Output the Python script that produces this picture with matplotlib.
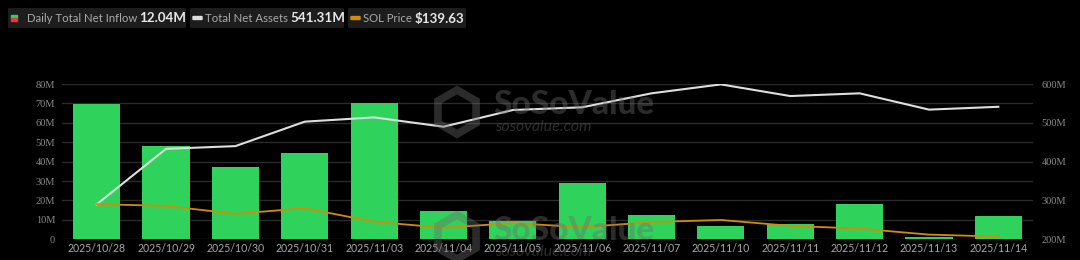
import numpy as np
import matplotlib.pyplot as plt
from matplotlib.patches import FancyBboxPatch, RegularPolygon

# data
dates = ['2025/10/28', '2025/10/29', '2025/10/30', '2025/10/31', '2025/11/03',
         '2025/11/04', '2025/11/05', '2025/11/06', '2025/11/07', '2025/11/10',
         '2025/11/11', '2025/11/12', '2025/11/13', '2025/11/14']
net_inflow = [69.5, 47.9, 37.2, 44.5, 70.1, 14.7, 9.6, 29.2, 12.7, 6.7, 7.9, 18.0, 1.3, 12.04]   # M
net_assets = [290, 433, 440, 503, 514, 490, 533, 540, 576, 599, 569, 576, 534, 541.31]        # M
sol_price = [195.0, 192.0, 178.5, 188.0, 165.0, 154.7, 162.6, 155.7, 164.3, 168.0, 157.9, 153.3, 143.0, 139.63]

left_ticks = [0, 10, 20, 30, 40, 50, 60, 70, 80]
right_ticks = [200, 300, 400, 500, 600]

BG = '#000000'
GREEN = '#2fd35b'
WHITE = '#dedede'
ORANGE = '#d38c05'
GRID = '#2b2b2b'
WM = '#6e6e6e'

plt.rcParams['font.family'] = ['Lato', 'DejaVu Sans']
plt.rcParams['font.serif'] = ['Liberation Serif', 'DejaVu Serif']

W, H = 1080, 260
fig = plt.figure(figsize=(10.8, 2.6), dpi=100, facecolor=BG)
ax = fig.add_axes([62 / W, 1 - 239.3 / H, 971 / W, 155.3 / H])
ax.set_facecolor(BG)

x = np.arange(len(dates))
ax.bar(x, net_inflow, width=0.68, color=GREEN, zorder=2)
ax.set_xlim(-0.5, len(dates) - 0.5)
ax.set_ylim(0, 80)
ax.set_yticks(left_ticks)
ax.set_yticklabels([f'{v}M' if v else '0' for v in left_ticks],
                   fontfamily='serif', fontsize=7.5, color='#8a8a8a')
ax.set_xticks(x)
ax.set_xticklabels(dates, fontsize=7.6, color='#a8a8a8')
ax.tick_params(axis='x', length=0, pad=3)
ax.tick_params(axis='y', length=0, pad=5)
for yv in left_ticks:
    ax.axhline(yv, color=GRID, lw=1, zorder=0)
for s in ax.spines.values():
    s.set_visible(False)

# right axis: total net assets
ax2 = ax.twinx()
ax2.plot(x, net_assets, color=WHITE, lw=1.5, zorder=4)
ax2.set_ylim(200, 600)
ax2.set_yticks(right_ticks)
ax2.set_yticklabels([f'{v}M' for v in right_ticks],
                    fontfamily='serif', fontsize=7.5, color='#8a8a8a')
ax2.tick_params(length=0, pad=6)
for s in ax2.spines.values():
    s.set_visible(False)

# hidden axis: SOL price
ax3 = ax.twinx()
ax3.plot(x, sol_price, color=ORANGE, lw=1.3, zorder=3)
ax3.set_ylim(135, 400)
ax3.set_yticks([])
for s in ax3.spines.values():
    s.set_visible(False)

# watermarks
for cy in [105, 230]:
    fig.text(493 / W, 1 - cy / H, 'SoSoValue', fontsize=24, fontweight='black',
             color=WM, alpha=0.4, ha='left', va='center', zorder=10)
    fig.text(495 / W, 1 - (cy + 22) / H, 'sosovalue.com', fontsize=11.5, style='italic',
             color=WM, alpha=0.4, ha='left', va='center', zorder=10)
    hexa = RegularPolygon((457, H - cy - 7), 6, radius=22, transform=None,
                          facecolor='none', edgecolor=WM, lw=5.5, alpha=0.4, zorder=10)
    fig.add_artist(hexa)

# legend boxes at top
boxes = [
    (8, 186, 27, 139, 'Daily Total Net Inflow', '12.04M'),
    (190, 344, 205, 290, 'Total Net Assets', '541.31M'),
    (348, 466, 363, 415, 'SOL Price', '$139.63'),
]
for i, (x0, x1, lx, vx, label, val) in enumerate(boxes):
    fig.add_artist(FancyBboxPatch((x0 / W, 1 - 28 / H), (x1 - x0) / W, 20 / H,
                                  boxstyle='round,pad=0,rounding_size=0.003',
                                  transform=fig.transFigure, facecolor='#1d1d1d',
                                  edgecolor='none'))
    ty = 1 - 18.5 / H
    if i == 0:
        fig.add_artist(plt.Rectangle((11 / W, 1 - 18 / H), 6 / W, 3 / H,
                                     transform=fig.transFigure, color=GREEN))
        fig.add_artist(plt.Rectangle((11 / W, 1 - 21 / H), 6 / W, 3 / H,
                                     transform=fig.transFigure, color='#e8383d'))
    else:
        c = WHITE if i == 1 else ORANGE
        fig.add_artist(FancyBboxPatch(((x0 + 3) / W, 1 - 19.5 / H), 9 / W, 3 / H,
                                      boxstyle='round,pad=0,rounding_size=0.001',
                                      transform=fig.transFigure, color=c))
    fig.text(lx / W, ty, label, fontsize=8.2, color='#a9a9a9', va='center', ha='left')
    fig.text(vx / W, ty, val, fontsize=9.6, fontweight='bold', color='#e6e6e6',
             va='center', ha='left')

fig.savefig('out.png', dpi=100, facecolor=BG)
